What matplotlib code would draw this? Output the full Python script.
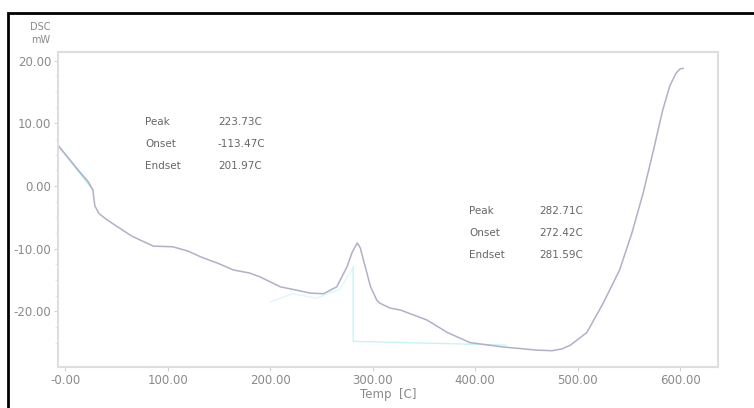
import numpy as np
import matplotlib.pyplot as plt
from matplotlib.patches import Rectangle

# DSC curve (temp in C, heat flow in mW)
temp = [-7, 5, 15, 22, 27, 29, 33, 40, 51, 65, 86, 105, 120, 132, 150, 164,
        180, 190, 210, 225, 239, 252, 265, 275, 280, 285, 288, 291, 298, 304,
        307, 317, 327, 353, 373, 395, 427, 460, 475, 485, 493, 509, 525, 541,
        553, 564, 574, 583, 590, 596, 600, 603]
dsc = [6.5, 4.1, 2.1, 0.8, -0.6, -3.2, -4.4, -5.3, -6.5, -8.0, -9.6, -9.7,
       -10.4, -11.3, -12.4, -13.4, -13.9, -14.5, -16.1, -16.6, -17.1, -17.2,
       -16.1, -12.9, -10.6, -9.1, -9.9, -11.8, -16.1, -18.2, -18.7, -19.5,
       -19.8, -21.4, -23.4, -25.0, -25.7, -26.2, -26.3, -26.0, -25.4, -23.4,
       -18.7, -13.4, -7.5, -1.1, 5.7, 12.1, 16.0, 18.0, 18.7, 18.8]

# baseline construction lines (cyan)
base1_t = [-7, 27]
base1_v = [6.5, -0.6]
base2_t = [200, 222, 245, 268, 281]
base2_v = [-18.5, -17.2, -17.9, -16.5, -13.0]
base3_t = [281, 281, 430]
base3_v = [-13.0, -24.8, -25.4]

xticks = [0, 100, 200, 300, 400, 500, 600]
xtick_labels = ['-0.00', '100.00', '200.00', '300.00', '400.00', '500.00', '600.00']
yticks = [-20, -10, 0, 10, 20]
ytick_labels = ['-20.00', '-10.00', '0.00', '10.00', '20.00']

ann1_keys = ['Peak', 'Onset', 'Endset']
ann1_vals = ['223.73C', '-113.47C', '201.97C']
ann2_keys = ['Peak', 'Onset', 'Endset']
ann2_vals = ['282.71C', '272.42C', '281.59C']

grey = '#8a8a8a'
fig = plt.figure(figsize=(7.54, 4.08), dpi=100)
fig.patch.set_facecolor('white')

# outer black frame
fig.patches.append(Rectangle((8 / 754, -0.1), 1.0, 1 - 13 / 408 + 0.1,
                             transform=fig.transFigure, fill=False,
                             edgecolor='black', linewidth=2))

ax = fig.add_axes([58 / 754, 1 - 367 / 408, 660 / 754, 315 / 408])
ax.plot(base1_t, base1_v, color='#b8f0f0', lw=1.2)
ax.plot(base2_t, base2_v, color='#dff8f8', lw=1.0)
ax.plot(base3_t, base3_v, color='#c8f4f4', lw=1.0)
ax.plot(temp, dsc, color='#b0b0c8', lw=1.1)

ax.set_xlim(-7, 637)
ax.set_ylim(-28.9, 21.4)
ax.set_xticks(xticks)
ax.set_xticklabels(xtick_labels)
ax.set_yticks(yticks)
ax.set_yticklabels(ytick_labels)
ax.set_yticks(np.arange(-25, 21, 2.5), minor=True)
ax.tick_params(axis='both', which='major', colors='#d0d0d0', labelcolor=grey,
               labelsize=8.5, length=3, direction='out', pad=2)
ax.tick_params(axis='y', which='minor', colors='#e0e0e0', length=2)
for s in ax.spines.values():
    s.set_color('#dedede')
    s.set_linewidth(1.5)

ax.text(-0.012, 1.079, 'DSC', transform=ax.transAxes, ha='right', va='center',
        fontsize=7, color=grey)
ax.text(-0.012, 1.038, 'mW', transform=ax.transAxes, ha='right', va='center',
        fontsize=7, color=grey)
ax.set_xlabel('Temp  [C]', fontsize=8.5, color=grey, labelpad=1)

for i in range(3):
    ax.text(78, 10.2 - i * 3.5, ann1_keys[i], fontsize=7.5, color='#666666', va='center')
    ax.text(149, 10.2 - i * 3.5, ann1_vals[i], fontsize=7.5, color='#666666', va='center')
    ax.text(394, -4.0 - i * 3.5, ann2_keys[i], fontsize=7.5, color='#666666', va='center')
    ax.text(463, -4.0 - i * 3.5, ann2_vals[i], fontsize=7.5, color='#666666', va='center')

fig.savefig('out.png', dpi=100)
